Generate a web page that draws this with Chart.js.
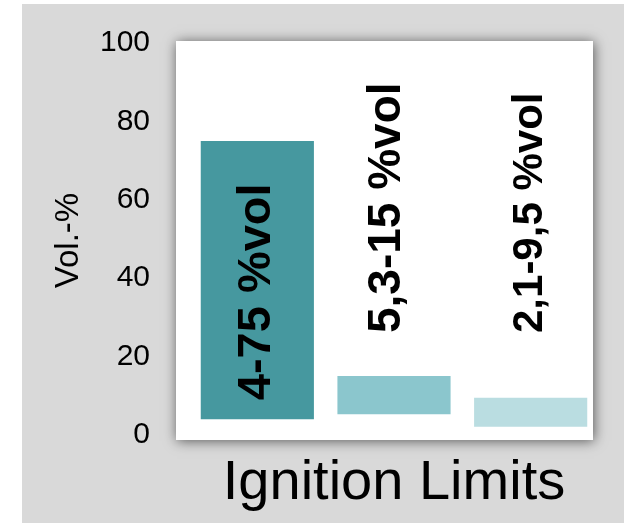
<!DOCTYPE html>
<html>
<head>
<meta charset="utf-8">
<script src="https://cdn.jsdelivr.net/npm/chart.js@4/dist/chart.umd.min.js"></script>
<style>
  html, body { margin: 0; padding: 0; background: #ffffff; }
  canvas { display: block; }
</style>
</head>
<body>
<canvas id="chart" width="624" height="523"></canvas>
<script>
// Flammability ranges in air (vol.-%)
const categories = ['Hydrogen', 'Methane', 'Propane'];
const lowerLimits = [4, 5.3, 2.1];
const upperLimits = [75, 15, 9.5];
const rangeLabels = ['4-75 %vol', '5,3-15 %vol', '2,1-9,5 %vol'];
const yTickValues = [0, 20, 40, 60, 80, 100];

// Styling
const barColors = ['#46989f', '#8bc6cd', '#badde1'];
const labelFontPx = [47, 46, 42];
const labelNudgeX = [0, -7, 0];
const OUTSIDE_LABEL_LEVEL = 26; // value line where labels of short bars begin

Chart.defaults.font.family = '"Liberation Sans", Arial, sans-serif';
Chart.defaults.color = '#000000';

// Grey page panel and the white plotting card with its soft shadow
const backdrop = {
  id: 'backdrop',
  beforeDraw(chart) {
    const { ctx, chartArea: a } = chart;
    ctx.save();
    ctx.fillStyle = '#d9d9d9';
    ctx.fillRect(22, 4, chart.width - 22, chart.height - 4);
    ctx.shadowColor = 'rgba(0,0,0,0.6)';
    ctx.shadowBlur = 12;
    ctx.shadowOffsetX = 1;
    ctx.shadowOffsetY = 1;
    ctx.fillStyle = '#ffffff';
    const left = a.left - 13;
    const right = a.right - 6;
    ctx.fillRect(left, a.top, right - left, a.bottom - a.top);
    ctx.restore();
  }
};

// Vertical range captions: inside the bar when it fits, otherwise above it
const rangeCaptions = {
  id: 'rangeCaptions',
  afterDatasetsDraw(chart) {
    const { ctx } = chart;
    const yScale = chart.scales.y;
    const meta = chart.getDatasetMeta(0);
    meta.data.forEach((bar, i) => {
      const { x, y, base } = bar.getProps(['x', 'y', 'base'], true);
      const text = rangeLabels[i];
      ctx.save();
      ctx.font = `bold ${labelFontPx[i]}px "Liberation Sans", Arial, sans-serif`;
      const w = ctx.measureText(text).width;
      let start;
      if (w < (base - y) - 40) {
        start = base - 19;
      } else {
        start = Math.min(y - 20, yScale.getPixelForValue(OUTSIDE_LABEL_LEVEL));
      }
      ctx.translate(x + labelNudgeX[i], start);
      ctx.rotate(-Math.PI / 2);
      ctx.textAlign = 'left';
      ctx.textBaseline = 'middle';
      ctx.fillStyle = '#000000';
      ctx.fillText(text, 0, 0);
      ctx.restore();
    });
  }
};

new Chart(document.getElementById('chart'), {
  type: 'bar',
  data: {
    labels: categories,
    datasets: [{
      data: categories.map((_, i) => [lowerLimits[i], upperLimits[i]]),
      backgroundColor: barColors,
      borderWidth: 0,
      categoryPercentage: 1,
      barPercentage: 0.828
    }]
  },
  options: {
    responsive: false,
    animation: false,
    devicePixelRatio: 1,
    layout: { padding: { left: 49, right: 25, top: 41, bottom: 0 } },
    plugins: {
      legend: { display: false },
      tooltip: { enabled: false }
    },
    scales: {
      x: {
        grid: { display: false, drawTicks: false },
        border: { display: false },
        ticks: { display: false },
        title: {
          display: true,
          text: 'Ignition Limits',
          color: '#000000',
          font: { size: 56 },
          padding: { top: 0, bottom: 6 }
        },
        afterFit(scale) { scale.height = 83; }
      },
      y: {
        min: -1.3,
        max: 100.5,
        grid: { display: false, drawTicks: false },
        border: { display: false },
        ticks: { color: '#000000', font: { size: 30 }, padding: 39 },
        afterBuildTicks(scale) {
          scale.ticks = yTickValues.map(v => ({ value: v }));
        },
        title: {
          display: true,
          text: 'Vol.-%',
          color: '#000000',
          font: { size: 33 },
          padding: { top: 0, bottom: 13 }
        },
        afterFit(scale) {
          scale.width = 140;
          scale.paddingTop = 0;
          scale.paddingBottom = 0;
        }
      }
    }
  },
  plugins: [backdrop, rangeCaptions]
});
</script>
</body>
</html>
